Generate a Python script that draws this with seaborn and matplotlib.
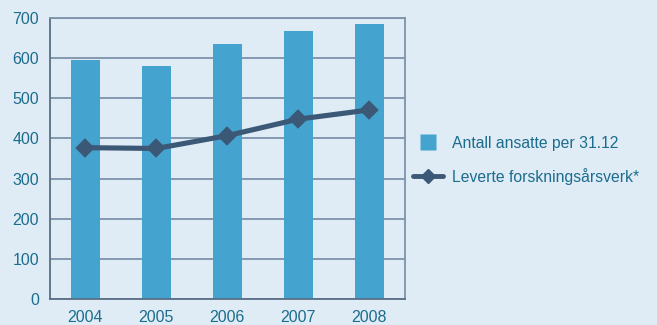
import matplotlib
matplotlib.use("Agg")
import matplotlib.pyplot as plt
import seaborn as sns
import pandas as pd
from matplotlib.lines import Line2D

years = ["2004", "2005", "2006", "2007", "2008"]
ansatte = [595, 580, 635, 668, 685]
aarsverk = [377, 375, 407, 448, 471]
yticks = [0, 100, 200, 300, 400, 500, 600, 700]
label_bar = "Antall ansatte per 31.12"
label_line = "Leverte forskningsårsverk*"

df = pd.DataFrame({"year": years, "ansatte": ansatte, "aarsverk": aarsverk})

sns.set_theme(style="white")
plt.rcParams["font.family"] = ["Liberation Sans", "DejaVu Sans"]

bg = "#dfebf5"
bar_c = "#44a3cf"
line_c = "#3b5877"
txt_c = "#1b6d8e"
grid_c = "#7d93aa"

fig = plt.figure(figsize=(6.57, 3.25), dpi=100, facecolor=bg)
ax = fig.add_axes([0.0761, 0.08, 0.540, 0.8646])
ax.set_facecolor(bg)

sns.barplot(data=df, x="year", y="ansatte", color=bar_c, width=0.41,
            saturation=1, linewidth=0, edgecolor="none", ax=ax, zorder=2)
sns.pointplot(data=df, x="year", y="aarsverk", color=line_c, markers="D",
              linewidth=3.7, markersize=7, ax=ax, zorder=3)

ax.set_ylim(0, 700)
ax.set_xlim(-0.5, 4.5)
ax.set_yticks(yticks)
ax.yaxis.grid(True, color=grid_c, linewidth=1.3, zorder=0)
ax.set_axisbelow(True)
ax.set_xlabel("")
ax.set_ylabel("")
for s in ax.spines.values():
    s.set_visible(True)
    s.set_color(grid_c)
    s.set_linewidth(1.3)
ax.spines["left"].set_color("#5a6f86")
ax.spines["bottom"].set_color("#5a6f86")

ax.set_xticks(range(len(years)))
ax.set_xticklabels(years)
ax.set_xticks([i - 0.5 for i in range(len(years) + 1)], minor=True)
ax.tick_params(axis="x", which="major", length=0, pad=8, labelsize=11.5, labelcolor=txt_c)
ax.tick_params(axis="x", which="minor", length=4, width=1, color="#5a6f86", direction="out")
ax.tick_params(axis="y", which="major", length=4, width=1, color="#5a6f86", direction="out",
               pad=4, labelsize=11.5, labelcolor=txt_c)

handles = [Line2D([0], [0], color="none", marker="s", markersize=11,
                  markerfacecolor=bar_c, markeredgecolor="none"),
           Line2D([0], [0], color=line_c, linewidth=3.5, marker="D", markersize=7)]
leg = fig.legend(handles, [label_bar, label_line], loc="center left",
                 bbox_to_anchor=(0.607, 0.507), frameon=False, fontsize=11.3,
                 handlelength=1.9, labelspacing=1.1, handletextpad=0.6)
for t in leg.get_texts():
    t.set_color(txt_c)

fig.savefig("out.png", dpi=100, facecolor=bg)
